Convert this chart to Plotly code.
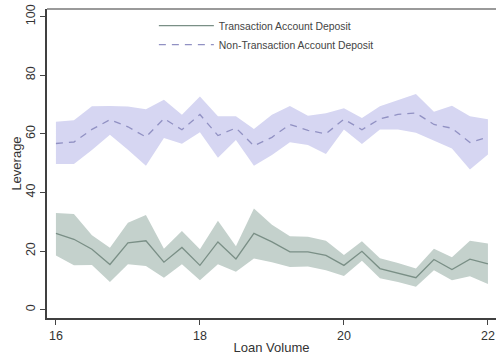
import plotly.graph_objects as go

loan_volume = [16.0, 16.25, 16.5, 16.75, 17.0, 17.25, 17.5, 17.75, 18.0, 18.25, 18.5, 18.75,
               19.0, 19.25, 19.5, 19.75, 20.0, 20.25, 20.5, 20.75, 21.0, 21.25, 21.5, 21.75, 22.0]

trans_mean = [26.0, 24.0, 20.6, 15.4, 22.8, 23.5, 16.2, 21.2, 15.1, 23.1, 17.3, 26.0,
              23.1, 19.7, 19.7, 18.5, 15.1, 19.9, 14.0, 12.5, 10.9, 17.1, 13.7, 17.2, 15.6]
trans_upper = [33.0, 32.6, 25.4, 21.1, 29.6, 32.3, 20.8, 26.8, 20.6, 30.3, 21.6, 34.5,
               29.0, 25.0, 24.9, 23.5, 18.6, 23.3, 17.5, 15.9, 14.0, 20.8, 17.9, 23.5, 22.6]
trans_lower = [18.5, 15.1, 15.2, 9.4, 15.5, 14.9, 10.9, 15.5, 10.0, 15.5, 12.9, 17.4,
               16.2, 14.5, 14.7, 13.4, 11.5, 16.7, 10.7, 9.4, 7.8, 13.4, 10.0, 11.4, 8.7]

nontrans_mean = [56.7, 57.2, 61.5, 64.8, 62.4, 58.9, 65.2, 61.4, 66.6, 59.4, 62.0, 55.9,
                 58.8, 63.2, 61.2, 60.0, 65.0, 61.4, 65.1, 66.6, 67.1, 63.2, 61.9, 57.0, 58.9]
nontrans_upper = [64.1, 64.6, 69.4, 69.5, 69.3, 68.4, 71.6, 66.5, 72.7, 66.0, 66.0, 61.6,
                  66.5, 69.5, 66.2, 67.0, 68.7, 65.4, 69.4, 71.4, 73.6, 67.5, 69.6, 66.0, 65.0]
nontrans_lower = [49.7, 49.7, 54.5, 59.7, 54.6, 49.1, 58.6, 56.6, 60.5, 51.8, 57.9, 49.1,
                  52.8, 57.1, 56.2, 53.1, 61.5, 56.5, 61.5, 61.5, 60.4, 57.6, 55.0, 47.8, 52.9]

x_ticks = [16, 18, 20, 22]
y_ticks = [0, 20, 40, 60, 80, 100]

GREEN_FILL = "rgb(196,209,204)"
GREEN_LINE = "rgb(122,143,134)"
PURPLE_FILL = "rgb(214,214,242)"
PURPLE_LINE = "rgb(145,145,195)"
FONT = "Liberation Sans, Arial, sans-serif"

fig = go.Figure()

# Non-transaction band
fig.add_trace(go.Scatter(x=loan_volume, y=nontrans_lower, mode="lines",
                         line=dict(width=0), showlegend=False, hoverinfo="skip"))
fig.add_trace(go.Scatter(x=loan_volume, y=nontrans_upper, mode="lines", fill="tonexty",
                         fillcolor=PURPLE_FILL, line=dict(width=0), showlegend=False,
                         hoverinfo="skip"))
# Transaction band
fig.add_trace(go.Scatter(x=loan_volume, y=trans_lower, mode="lines",
                         line=dict(width=0), showlegend=False, hoverinfo="skip"))
fig.add_trace(go.Scatter(x=loan_volume, y=trans_upper, mode="lines", fill="tonexty",
                         fillcolor=GREEN_FILL, line=dict(width=0), showlegend=False,
                         hoverinfo="skip"))

fig.add_trace(go.Scatter(x=loan_volume, y=trans_mean, mode="lines",
                         name="Transaction Account Deposit",
                         line=dict(color=GREEN_LINE, width=1.3)))
fig.add_trace(go.Scatter(x=loan_volume, y=nontrans_mean, mode="lines",
                         name="Non-Transaction Account Deposit",
                         line=dict(color=PURPLE_LINE, width=1.3, dash="7px,6px")))

fig.update_layout(
    width=496, height=358,
    margin=dict(l=47, r=0, t=9, b=40, pad=0, autoexpand=False),
    paper_bgcolor="white", plot_bgcolor="white",
    font=dict(family=FONT, color="#333333", size=12),
    legend=dict(x=0.238, y=0.993, xanchor="left", yanchor="top", traceorder="normal",
                bgcolor="rgba(0,0,0,0)", font=dict(size=10.4, color="#444444"),
                itemwidth=55, tracegroupgap=0),
    xaxis=dict(range=[15.876, 22.112], tickvals=x_ticks, ticks="outside", ticklen=5,
               tickwidth=1.2, tickcolor="#444444", showgrid=False, zeroline=False,
               showline=True, linecolor="#404040", linewidth=1.5, automargin=False,
               ticklabeloverflow="allow",
               tickfont=dict(size=12.5, color="#333333"),
               title=dict(text="Loan Volume", font=dict(size=13, color="#333333"), standoff=1)),
    yaxis=dict(range=[-2.87, 102.6], tickvals=y_ticks, ticks="outside", ticklen=5,
               tickwidth=1.2, tickcolor="#444444", showgrid=False, zeroline=False,
               showline=True, linecolor="#404040", linewidth=1.5, tickangle=-90,
               automargin=False, ticklabeloverflow="allow",
               tickfont=dict(size=12.5, color="#333333"),
               title=dict(text="Leverage", font=dict(size=13, color="#333333"), standoff=0)),
    shapes=[dict(type="line", xref="paper", yref="paper", x0=0, x1=1, y0=1, y1=1,
                 line=dict(color="#9a9a9a", width=2))],
)

fig.write_html("out.html", config={"displayModeBar": False},
               post_script="document.body.style.margin='0';")
